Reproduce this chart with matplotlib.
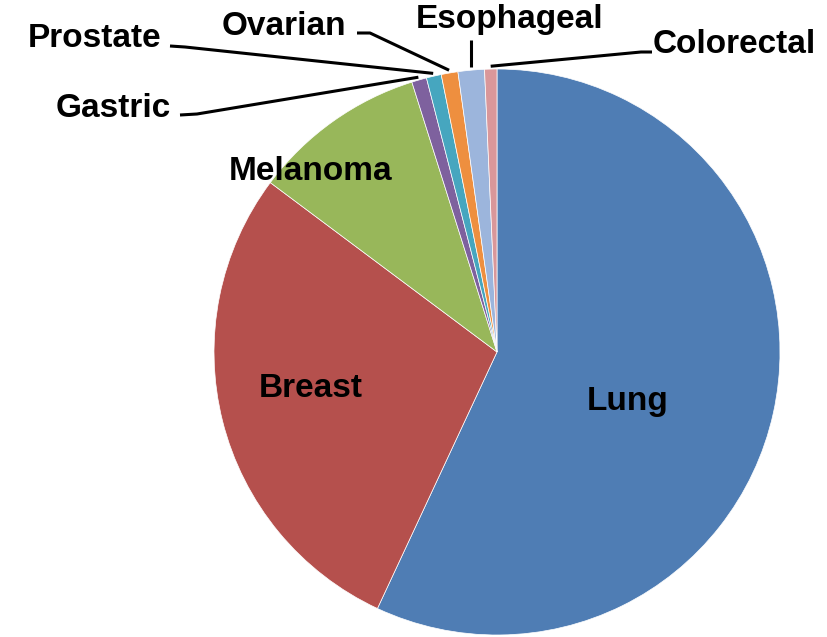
import numpy as np
import matplotlib
matplotlib.use("Agg")
import matplotlib.pyplot as plt

categories = ["Lung", "Breast", "Melanoma", "Gastric", "Prostate", "Ovarian", "Esophageal", "Colorectal"]
values = [56.8, 28.2, 9.9, 0.85, 0.85, 0.95, 1.5, 0.7]
colors = ["#4F7DB4", "#B5504D", "#98B75A", "#7E619E", "#46A6BF", "#EE8F3F", "#9CB5DC", "#D9979A"]

W, H = 827, 637
fig = plt.figure(figsize=(W / 100, H / 100), dpi=100)
ax = fig.add_axes([0, 0, 1, 1])

def Y(y):
    return H - y

cx, cy, R = 497, 352, 283
wedges, _ = ax.pie(values, colors=colors, startangle=90, counterclock=False,
                   center=(cx, Y(cy)), radius=R,
                   wedgeprops=dict(linewidth=0.5, edgecolor="white"))
ax.set_xlim(0, W)
ax.set_ylim(0, H)
ax.set_aspect("equal")
ax.axis("off")

font = dict(family="Liberation Sans", fontweight="bold", fontsize=24, color="black")

# inside labels (baseline positions)
inside = {"Lung": (628, 410), "Breast": (311, 397), "Melanoma": (311, 180)}
for name, (x, y) in inside.items():
    ax.text(x, Y(y), name, ha="center", va="baseline", **font)

# outside labels: text anchor, alignment, elbow points (None x = use anchor x)
outside = {
    "Gastric": dict(pos=(171, 117), ha="right", elbow=[(180, 115), (197, 114)]),
    "Prostate": dict(pos=(161, 47), ha="right", elbow=[(170, 46), (185, 47)]),
    "Ovarian": dict(pos=(346, 35), ha="right", elbow=[(357, 33), (370, 33)]),
    "Esophageal": dict(pos=(510, 28), ha="center", elbow=[(None, 40)]),
    "Colorectal": dict(pos=(653, 53), ha="left", elbow=[(652, 52), (641, 52)]),
}
for w, name in zip(wedges, categories):
    if name not in outside:
        continue
    spec = outside[name]
    mid = np.deg2rad((w.theta1 + w.theta2) / 2)
    ax_pt = (cx + R * 1.01 * np.cos(mid), Y(cy) + R * 1.01 * np.sin(mid))
    pts = [((ax_pt[0] if x is None else x), Y(y)) for x, y in spec["elbow"]] + [ax_pt]
    xs, ys = zip(*pts)
    ax.plot(xs, ys, color="black", lw=2.2, solid_capstyle="butt")
    x, y = spec["pos"]
    ax.text(x, Y(y), name, ha=spec["ha"], va="baseline", **font)

fig.savefig("out.png", dpi=100, facecolor="white")
